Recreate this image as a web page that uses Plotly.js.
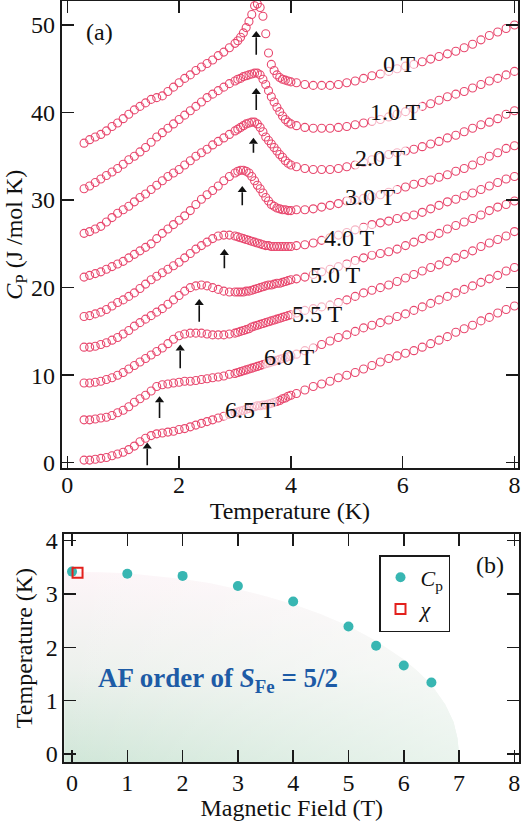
<!DOCTYPE html>
<html><head><meta charset="utf-8">
<script src="https://cdn.plot.ly/plotly-3.0.1.min.js"></script>
<style>html,body{margin:0;padding:0;background:#fff}#chart{width:522px;height:821px}</style>
</head><body><div id="chart"></div>
<script>
// ---- Panel (a): specific heat vs temperature (curves offset vertically) ----
const temperatureK = [
 0.3,0.4,0.5,0.6,0.7,0.8,0.9,1.0,1.1,1.2,1.3,1.4,1.5,1.6,1.7,1.8,1.9,2.0,2.1,2.2,2.3,2.4,2.5,2.6,2.7,2.8,2.9,3.0,
 3.05,3.1,3.15,3.2,3.25,3.3,3.35,3.4,3.45,3.5,3.55,3.6,3.65,3.7,3.75,3.8,3.85,3.9,3.95,4.0,
 4.1,4.25,4.4,4.55,4.7,4.85,5.0,5.15,5.3,5.45,5.6,5.75,5.9,6.05,6.2,6.35,6.5,6.65,6.8,6.95,7.1,7.25,7.4,7.55,7.7,7.85,8.0];

const cp0T = [
 36.5,36.9,37.2,37.5,37.9,38.4,38.8,39.3,39.8,40.3,40.7,41.1,41.5,41.7,41.9,42.4,42.9,43.4,43.9,44.3,44.8,45.2,45.6,46.0,46.5,46.9,47.4,47.9,
 48.2,48.6,49.1,49.7,50.4,51.2,52.2,52.4,52.0,51.0,49.0,46.8,45.5,44.8,44.3,44.0,43.8,43.7,43.6,43.5,
 43.4,43.2,43.1,43.1,43.1,43.2,43.4,43.6,43.9,44.2,44.4,44.7,45.0,45.3,45.5,45.8,46.1,46.4,46.7,47.0,47.4,47.8,48.3,48.8,49.2,49.6,50.0];
const cp1T = [
 31.3,31.6,32.0,32.4,32.8,33.2,33.6,34.1,34.6,35.0,35.5,36.0,36.6,37.2,37.7,38.2,38.7,39.2,39.7,40.2,40.7,41.2,41.7,42.1,42.5,42.9,43.3,43.6,
 43.8,43.9,44.1,44.2,44.3,44.4,44.5,44.5,44.3,43.8,43.2,42.5,41.8,41.2,40.6,40.1,39.6,39.2,38.9,38.7,
 38.5,38.3,38.2,38.2,38.2,38.3,38.4,38.6,38.8,39.0,39.2,39.5,39.8,40.1,40.4,40.7,41.0,41.4,41.8,42.1,42.4,42.8,43.2,43.6,43.9,44.3,44.7];
const cp2T = [
 26.2,26.4,26.7,27.0,27.5,28.0,28.5,28.9,29.3,29.8,30.3,30.7,31.2,31.7,32.2,32.7,33.1,33.5,34.0,34.5,35.0,35.4,35.8,36.3,36.7,37.1,37.5,37.9,
 38.1,38.3,38.5,38.7,38.8,38.9,38.9,38.7,38.3,37.8,37.2,36.8,36.4,36.0,35.6,35.2,34.9,34.5,34.2,34.0,
 33.8,33.6,33.5,33.5,33.5,33.6,33.8,34.0,34.3,34.6,34.9,35.2,35.4,35.6,35.8,36.1,36.4,36.7,37.1,37.4,37.8,38.2,38.6,38.9,39.3,39.8,40.2];
const cp3T = [
 21.2,21.4,21.6,21.8,22.1,22.4,22.7,23.0,23.4,23.8,24.2,24.6,25.0,25.6,26.2,26.7,27.2,27.7,28.2,28.8,29.5,30.1,30.6,31.1,31.6,32.2,32.7,33.1,
 33.3,33.4,33.4,33.3,33.1,32.7,32.2,31.7,31.3,30.8,30.3,29.9,29.5,29.3,29.1,29.0,28.9,28.9,28.8,28.8,
 28.9,28.9,29.0,29.2,29.4,29.6,29.9,30.0,30.2,30.4,30.6,30.9,31.2,31.5,31.8,32.0,32.3,32.6,32.9,33.3,33.6,34.0,34.5,35.0,35.4,35.9,36.2];
const cp4T = [
 16.7,16.8,17.0,17.2,17.5,17.9,18.3,18.6,19.0,19.4,19.9,20.4,20.9,21.3,21.7,22.1,22.5,22.9,23.4,23.9,24.4,24.8,25.2,25.6,25.9,26.0,26.0,25.9,
 25.8,25.7,25.6,25.5,25.4,25.3,25.2,25.1,25.0,24.9,24.8,24.8,24.7,24.7,24.7,24.7,24.7,24.7,24.7,24.7,
 24.8,24.9,25.1,25.4,25.7,26.0,26.3,26.6,26.9,27.2,27.4,27.6,27.9,28.1,28.3,28.6,29.0,29.4,29.8,30.1,30.5,30.8,31.2,31.6,32.0,32.4,32.7];
const cp5T = [
 13.2,13.2,13.3,13.5,13.7,14.0,14.3,14.7,15.1,15.6,16.0,16.4,16.8,17.2,17.6,18.1,18.6,19.1,19.6,20.0,20.2,20.3,20.2,20.0,19.8,19.6,19.5,19.5,
 19.5,19.5,19.5,19.6,19.6,19.7,19.8,19.9,20.0,20.1,20.2,20.3,20.3,20.4,20.5,20.5,20.6,20.7,20.8,20.9,
 21.0,21.2,21.5,21.8,22.1,22.4,22.7,23.1,23.4,23.7,23.9,24.1,24.4,24.8,25.2,25.6,25.9,26.2,26.7,27.1,27.5,27.9,28.3,28.8,29.2,29.5,29.9];
const cp55T = [
 9.1,9.1,9.2,9.3,9.5,9.7,10.0,10.3,10.7,11.1,11.5,11.9,12.3,12.7,13.1,13.6,14.1,14.5,14.7,14.8,14.8,14.8,14.7,14.6,14.6,14.6,14.7,14.8,
 14.9,15.0,15.1,15.2,15.3,15.5,15.6,15.7,15.8,15.9,16.0,16.1,16.2,16.3,16.4,16.5,16.6,16.7,16.8,16.9,
 17.1,17.4,17.6,17.8,18.0,18.3,18.6,19.0,19.4,19.7,20.0,20.3,20.7,21.1,21.5,21.9,22.3,22.6,23.0,23.4,23.8,24.2,24.7,25.1,25.5,25.9,26.4];
const cp6T = [
 4.9,4.9,5.0,5.1,5.2,5.4,5.7,6.0,6.4,6.9,7.3,7.7,8.2,8.7,8.9,9.0,9.1,9.2,9.3,9.3,9.4,9.5,9.6,9.7,9.8,9.9,10.1,10.2,
 10.3,10.4,10.5,10.6,10.7,10.8,10.9,11.0,11.1,11.2,11.3,11.4,11.5,11.6,11.7,11.8,11.9,12.0,12.1,12.2,
 12.4,12.8,13.1,13.5,13.9,14.3,14.6,15.0,15.4,15.7,16.0,16.3,16.7,17.0,17.4,17.8,18.2,18.6,19.0,19.4,19.8,20.2,20.6,21.0,21.4,21.9,22.3];
const cp65T = [
 0.3,0.3,0.4,0.5,0.6,0.8,1.0,1.2,1.5,1.9,2.4,2.8,3.1,3.3,3.4,3.5,3.6,3.8,3.9,4.1,4.3,4.5,4.7,4.9,5.1,5.3,5.5,5.7,
 5.8,5.9,6.0,6.1,6.2,6.3,6.4,6.5,6.5,6.6,6.6,6.7,6.8,6.9,7.0,7.1,7.3,7.4,7.6,7.7,
 7.9,8.3,8.7,9.0,9.3,9.7,10.0,10.3,10.7,11.1,11.5,11.9,12.2,12.5,12.8,13.2,13.6,14.0,14.4,14.9,15.3,15.7,16.2,16.6,17.1,17.5,17.9];

const fieldLabels = ['0 T','1.0 T','2.0 T','3.0 T','4.0 T','5.0 T','5.5 T','6.0 T','6.5 T'];
const labelT  = [5.95,5.88,5.61,5.43,5.04,4.79,4.48,3.97,3.27];
const labelCp = [45.5,40.05,34.8,30.35,25.7,21.44,17.0,12.08,6.0];

// arrows marking the transition on each curve
const arrowT      = [3.38,3.38,3.33,3.13,2.81,2.36,2.02,1.65,1.43];
const arrowHeadCp = [49.4,42.9,37.2,31.7,24.5,18.8,13.6,7.7,2.4];
const arrowTailCp = [46.6,40.3,35.4,29.4,22.2,16.1,10.8,5.1,-0.3];

// ---- Panel (b): phase diagram ----
const fieldTesla = [0,1,2,3,4,5,5.5,6,6.5];
const tnCp       = [3.42,3.38,3.34,3.15,2.86,2.39,2.03,1.66,1.34];
const chiField   = [0.1];
const chiTn      = [3.4];
const boundaryField = [-0.2,0,0.5,1,1.5,2,2.5,3,3.5,4,4.5,5,5.5,6,6.25,6.5,6.75,6.9,6.97,7.0,7.0,-0.2];
const boundaryTemp  = [3.42,3.42,3.41,3.39,3.34,3.28,3.2,3.09,2.96,2.81,2.62,2.4,2.12,1.77,1.55,1.3,0.93,0.6,0.3,0,-0.2,-0.2];

const FONT = 'Liberation Serif';
const INK = '#1a1a1a';
const TXT = '#111';
const curveColor = '#e8486e';
const cpSeries = [cp0T,cp1T,cp2T,cp3T,cp4T,cp5T,cp55T,cp6T,cp65T];

const traces = [];
cpSeries.forEach((ys, i) => {
  traces.push({type:'scatter', mode:'markers', x: temperatureK, y: ys, xaxis:'x', yaxis:'y',
    name: fieldLabels[i], showlegend:false, hoverinfo:'skip',
    marker:{symbol:'circle-open', size:8, color:curveColor, line:{width:1.1, color:curveColor}}});
});
const shaftX = [], shaftY = [];
arrowT.forEach((t, i) => { shaftX.push(t, t, null); shaftY.push(arrowTailCp[i], arrowHeadCp[i] - 0.8, null); });
traces.push({type:'scatter', mode:'lines', x: shaftX, y: shaftY, xaxis:'x', yaxis:'y', showlegend:false,
  hoverinfo:'skip', line:{color:'#111', width:1.6}});
traces.push({type:'scatter', mode:'markers', x: arrowT, y: arrowHeadCp.map(v => v - 0.55), xaxis:'x', yaxis:'y',
  showlegend:false, hoverinfo:'skip', marker:{symbol:'triangle-up', size:8, color:'#111', line:{width:0}}});

traces.push({type:'scatter', mode:'lines', x: boundaryField, y: boundaryTemp, xaxis:'x2', yaxis:'y2',
  fill:'toself', line:{width:0}, showlegend:false, hoverinfo:'skip',
  fillgradient:{type:'vertical', colorscale:[[0,'#cfe6d7'],[0.5,'#edf1ed'],[1,'#fdf5f8']]}});
traces.push({type:'scatter', mode:'lines', x: boundaryField, y: boundaryTemp, xaxis:'x2', yaxis:'y2',
  fill:'toself', line:{width:0}, showlegend:false, hoverinfo:'skip',
  fillgradient:{type:'horizontal', colorscale:[[0,'rgba(255,255,255,0)'],[1,'rgba(255,255,255,0.55)']]}});
traces.push({type:'scatter', mode:'markers', x: fieldTesla, y: tnCp, xaxis:'x2', yaxis:'y2',
  name:'<i>C</i><sub>p</sub>', marker:{symbol:'circle', size:10, color:'#38b6b2'}});
traces.push({type:'scatter', mode:'markers', x: chiField, y: chiTn, xaxis:'x2', yaxis:'y2',
  name:'<i>χ</i>', marker:{symbol:'square-open', size:10, color:'#e3201c', line:{width:2, color:'#e3201c'}}});

const ax = {showline:true, linecolor:INK, linewidth:1.8, mirror:'ticks', ticks:'inside', ticklen:12,
  tickwidth:1.5, tickcolor:INK, showgrid:false, zeroline:false,
  tickfont:{family:FONT, size:24, color:TXT}};

const annotations = [];
fieldLabels.forEach((t, i) => annotations.push({xref:'x', yref:'y', x: labelT[i], y: labelCp[i], text: t,
  showarrow:false, font:{family:FONT, size:24, color:TXT}, bgcolor:'rgba(255,255,255,0.6)', borderpad:0}));
annotations.push({xref:'x', yref:'y', x:0.585, y:49.2, text:'(a)', showarrow:false, font:{family:FONT, size:24, color:TXT}});
annotations.push({xref:'x2', yref:'y2', x:7.56, y:3.55, text:'(b)', showarrow:false, font:{family:FONT, size:24, color:TXT}});
annotations.push({xref:'x2', yref:'y2', x:2.64, y:1.39, text:'<b>AF order of <i>S</i><sub>Fe</sub> = 5/2</b>',
  showarrow:false, font:{family:FONT, size:27, color:'#1d5ba6'}});

const layout = {
  width:522, height:821, margin:{l:60, r:2, t:0, b:58}, paper_bgcolor:'#fff', plot_bgcolor:'rgba(0,0,0,0)',
  font:{family:FONT, size:24, color:TXT},
  xaxis:Object.assign({}, ax, {domain:[0.0037,0.9957], range:[-0.1,8.063], tickvals:[0,2,4,6,8], anchor:'y',
    ticklabelstandoff:-6, title:{text:'Temperature (K)', font:{family:FONT, size:24, color:TXT}, standoff:0}}),
  yaxis:Object.assign({}, ax, {domain:[0.3862,0.9987], range:[-0.64,52.74], tickvals:[0,10,20,30,40,50], anchor:'x',
    title:{text:'<i>C</i><sub>P</sub> (J /mol K)', font:{family:FONT, size:24, color:TXT}, standoff:2}}),
  xaxis2:Object.assign({}, ax, {domain:[0.0093,0.9985], range:[-0.14,8.09], dtick:1, anchor:'y2',
    ticklabelstandoff:-2, title:{text:'Magnetic Field (T)', font:{family:FONT, size:24, color:TXT}, standoff:8}}),
  yaxis2:Object.assign({}, ax, {domain:[0.0013,0.3001], range:[-0.15,4.125], dtick:1, anchor:'x2',
    title:{text:'Temperature (K)', font:{family:FONT, size:24, color:TXT}, standoff:6}}),
  legend:{x:(379-60)/460, y:(763-555)/763, xanchor:'left', yanchor:'top', bgcolor:'#fff', bordercolor:INK,
    borderwidth:1.5, font:{family:FONT, size:22, color:TXT}, itemwidth:30, tracegroupgap:0},
  annotations: annotations,
  showlegend:true
};
Plotly.newPlot('chart', traces, layout, {displayModeBar:false, staticPlot:true});
</script></body></html>
